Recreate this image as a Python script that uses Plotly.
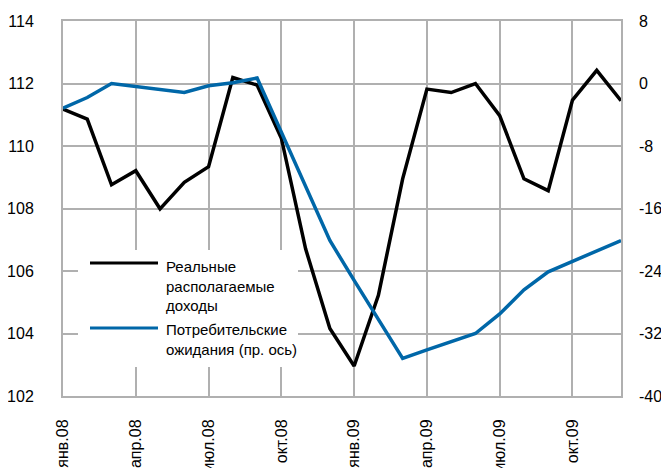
import plotly.graph_objects as go

months = ["янв.08", "фев.08", "мар.08", "апр.08", "май.08", "июн.08",
          "июл.08", "авг.08", "сен.08", "окт.08", "ноя.08", "дек.08",
          "янв.09", "фев.09", "мар.09", "апр.09", "май.09", "июн.09",
          "июл.09", "авг.09", "сен.09", "окт.09", "ноя.09", "дек.09"]

real_income = [111.18, 110.86, 108.76, 109.21, 107.99, 108.84,
               109.34, 112.19, 111.95, 110.25, 106.71, 104.16,
               102.96, 105.22, 108.95, 111.82, 111.71, 112.00,
               110.97, 108.95, 108.57, 111.47, 112.42, 111.45]

consumer_exp = [-3.15, -1.8, 0.0, -0.4, -0.75, -1.15,
                -0.3, 0.1, 0.7, -6.3, -13.2, -20.1,
                -25.2, -30.2, -35.2, -34.1, -33.0, -32.0,
                -29.5, -26.4, -24.1, -22.8, -21.4, -20.1]

tick_idx = [0, 3, 6, 9, 12, 15, 18, 21]
tick_labels = [months[i] for i in tick_idx]

left_ticks = [102, 104, 106, 108, 110, 112, 114]
right_ticks = [-40, -32, -24, -16, -8, 0, 8]
right_labels = ["-40", "-32", "-24", "-16", "-8", "0", "8"]

legend_names = ["Реальные<br>располагаемые<br>доходы",
                "Потребительские<br>ожидания (пр. ось)"]

FONT = "Liberation Sans, Arial, sans-serif"
FS_LEG = 15
FS_TICK = 16
GRID = "#b0b0b0"
BLUE = "#0067a8"

x = list(range(len(months)))

fig = go.Figure()
fig.add_trace(go.Scatter(x=x, y=real_income, mode="lines",
                         line=dict(color="black", width=3.5),
                         name="Реальные располагаемые доходы", showlegend=False))
fig.add_trace(go.Scatter(x=x, y=consumer_exp, mode="lines", yaxis="y2",
                         line=dict(color=BLUE, width=3.5),
                         name="Потребительские ожидания (пр. ось)", showlegend=False))

# page body offset of the browser (~8px)
OFF = 8
W, H = 669 - OFF, 468 - OFF
L, T = 63 - OFF, 21 - OFF
R = W - (621 - OFF)
B = H - (396 - OFF)
pw, ph = W - L - R, H - T - B

def px(xp):  # screen pixel -> paper
    return (xp - OFF - L) / pw

def py(yp):
    return (H - B - (yp - OFF)) / ph

shapes = [
    dict(type="rect", xref="paper", yref="paper", x0=px(78), x1=px(298),
         y0=py(367), y1=py(250), fillcolor="white", line=dict(width=0), layer="above"),
    dict(type="line", xref="paper", yref="paper", x0=px(90), x1=px(158),
         y0=py(263), y1=py(263), line=dict(color="black", width=3), layer="above"),
    dict(type="line", xref="paper", yref="paper", x0=px(90), x1=px(158),
         y0=py(328), y1=py(328), line=dict(color=BLUE, width=3), layer="above"),
]

annotations = [
    dict(xref="paper", yref="paper", x=px(164), y=py(286), xanchor="left", yanchor="middle",
         text=legend_names[0], showarrow=False, align="left",
         font=dict(family=FONT, size=FS_LEG, color="black")),
    dict(xref="paper", yref="paper", x=px(164), y=py(339.5), xanchor="left", yanchor="middle",
         text=legend_names[1], showarrow=False, align="left",
         font=dict(family=FONT, size=FS_LEG, color="black")),
]

fig.update_layout(
    width=W, height=H,
    margin=dict(l=L, r=R, t=T, b=B, pad=0),
    paper_bgcolor="white", plot_bgcolor="white",
    font=dict(family=FONT, size=FS_TICK, color="black"),
    showlegend=False,
    shapes=shapes,
    annotations=annotations,
    xaxis=dict(range=[0, len(months) - 1], tickmode="array", tickvals=tick_idx,
               ticktext=tick_labels, tickangle=-90, showgrid=True, gridcolor=GRID,
               gridwidth=2, showline=True, linecolor=GRID, linewidth=2, mirror=True,
               ticks="", zeroline=False, automargin=False, ticklabelstandoff=15,
               tickfont=dict(family=FONT, size=FS_TICK)),
    yaxis=dict(range=[102, 114], tickmode="array", tickvals=left_ticks,
               showgrid=True, gridcolor=GRID, gridwidth=2, showline=True,
               linecolor=GRID, linewidth=2, mirror=True, ticks="", zeroline=False,
               automargin=False, ticklabelstandoff=24,
               tickfont=dict(family=FONT, size=FS_TICK)),
    yaxis2=dict(range=[-40, 8], tickmode="array", tickvals=right_ticks,
                ticktext=right_labels,
                overlaying="y", side="right", showgrid=False, showline=False,
                ticks="", zeroline=False, automargin=False, ticklabelstandoff=17,
                tickfont=dict(family=FONT, size=FS_TICK)),
)

fig.write_html("out.html")
